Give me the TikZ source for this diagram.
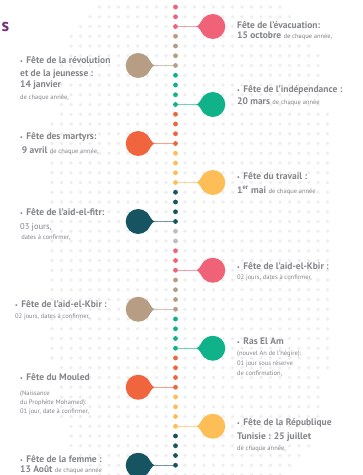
\documentclass[tikz,border=0pt]{standalone}
\usepackage{fontspec}
\setmainfont{PT Sans}
\usepackage{xcolor}
\usetikzlibrary{positioning}

\definecolor{pinkc}{RGB}{240,98,120}
\definecolor{tanc}{RGB}{182,157,131}
\definecolor{greenc}{RGB}{16,178,138}
\definecolor{orangec}{RGB}{241,101,62}
\definecolor{yellowc}{RGB}{253,190,88}
\definecolor{tealc}{RGB}{22,84,98}
\definecolor{grayc}{RGB}{190,190,190}
\definecolor{txtgray}{RGB}{130,133,138}
\definecolor{mapdot}{RGB}{238,238,238}
\definecolor{titlepurple}{RGB}{122,46,126}

\newcommand\smalltxt[1]{{\fontsize{6.5}{9}\selectfont\mdseries #1}}
\newcommand\bul{{\fontsize{6}{6}\selectfont\textbullet}\hspace{3.5pt}}

\begin{document}
\begin{tikzpicture}[x=1pt, y=-1pt,
  tldot/.style={circle, inner sep=0pt, minimum size=4.8pt},
  balloon/.style={circle, inner sep=0pt, minimum size=25pt},
  link/.style={line width=0.8pt},
  daytext/.style={align=left, inner sep=0pt, text=txtgray, font=\fontsize{9.5}{12.5}\selectfont\bfseries},
  tail/.pic={\fill (-17,0) .. controls (-13.5,0) and (-11.8,-5.8) .. (-8.8,-8.8) -- (-8.8,8.8) .. controls (-11.8,5.8) and (-13.5,0) .. (-17,0) -- cycle;}
]
\fill[white] (0,0) rectangle (363,475);
\useasboundingbox (0,0) rectangle (363,475);

% map of dots
\foreach \i in {0,...,37} {
  \foreach \j in {0,...,48} {
    \pgfmathsetmacro\mx{4.5+9.5*\i}
    \pgfmathsetmacro\my{7+9.75*\j}
    \pgfmathtruncatemacro\ok{(abs(\mx-190)/140)^4+(abs(\my-240)/250)^4<1}
    \ifnum\ok=1 \fill[mapdot] (\mx,\my) circle (1.8); \fi
  }
}

\node[text=titlepurple, font=\fontsize{18}{18}\selectfont\bfseries, anchor=west, inner sep=0pt] (title) at (1.5,27.2) {s};

% Timeline
\foreach \c/\a/\b in {pinkc/0/2, tanc/3/6, greenc/7/10, orangec/11/14, yellowc/15/18, tealc/19/22, grayc/23/24,
  pinkc/25/27, tanc/28/31, greenc/32/35, orangec/36/39, yellowc/40/43, tealc/44/47}
  \foreach \k in {\a,...,\b}
    \node[tldot, fill=\c] (d\k) at (175.5, 7+9.75*\k) {};

% Balloons
\node[balloon, fill=pinkc, right=22pt of d2] (evac) {};
\node[balloon, fill=greenc, right=22pt of d10] (indep) {};
\node[balloon, fill=yellowc, right=22pt of d18] (travail) {};
\node[balloon, fill=pinkc, right=22pt of d27] (kbirR) {};
\node[balloon, fill=greenc, right=22pt of d35] (rasam) {};
\node[balloon, fill=yellowc, right=22pt of d43] (repub) {};

\node[balloon, fill=tanc, left=22pt of d6] (revol) {};
\node[balloon, fill=orangec, left=22pt of d14] (martyrs) {};
\node[balloon, fill=tealc, left=22pt of d22] (fitr) {};
\node[balloon, fill=tanc, left=22pt of d31] (kbirL) {};
\node[balloon, fill=orangec, left=22pt of d39] (mouled) {};
\node[balloon, fill=tealc, left=22pt of d47] (femme) {};

% Links
\foreach \n/\d/\c in {evac/2/pinkc, indep/10/greenc, travail/18/yellowc, kbirR/27/pinkc, rasam/35/greenc, repub/43/yellowc} {
  \pic[\c] at (\n) {tail};
  \coordinate (\n-tip) at ([xshift=-4.5pt]\n.west);
  \draw[link, \c!60] (\n-tip) -- (d\d);
}
\foreach \n/\d/\c in {revol/6/tanc, martyrs/14/orangec, fitr/22/tealc, kbirL/31/tanc, mouled/39/orangec, femme/47/tealc} {
  \pic[\c, xscale=-1] at (\n) {tail};
  \coordinate (\n-tip) at ([xshift=4.5pt]\n.east);
  \draw[link, \c!60] (\n-tip) -- (d\d);
}

% Texts right
\node[daytext, anchor=north west] (tevac) at (237,21.5) {Fête de l’évacuation:\\[-3pt] 15 octobre \smalltxt{de chaque année,}};
\node[daytext, anchor=north west] (tindep) at (237,85.5) {\bul Fête de l’indépendance :\\[-1pt] 20 mars \smalltxt{de chaque année}};
\node[daytext, anchor=north west] (ttravail) at (237,172) {\bul Fête du travail :\\[1.5pt] 1\textsuperscript{er} mai \smalltxt{de chaque année}};
\node[daytext, anchor=north west] (tkbirR) at (237,262.7) {\bul Fête de l’aid-el-Kbir :\\[-2.5pt] \smalltxt{02 jours, dates à confirmer,}};
\node[daytext, anchor=north west] (trasam) at (237,337.7) {\bul Ras El Am\\[-1.5pt] \smalltxt{(nouvel An de l’hégire):}\\[-2.5pt]
  \smalltxt{01 jour sous réserve}\\[-3pt] \smalltxt{de confirmation,}};
\node[daytext, anchor=north west] (trepub) at (237,418.7) {\bul Fête de la République\\[1pt] Tunisie : 25 juillet\\[-1pt] \smalltxt{de chaque année,}};

% Texts left
\node[daytext, anchor=north west] (trevol) at (20,56.7) {\bul Fête de la révolution\\ et de la jeunesse :\\[-1.5pt] 14 janvier\\ \smalltxt{de chaque année,}};
\node[daytext, anchor=north west] (tmartyrs) at (20,132.7) {\bul Fête des martyrs:\\[1.5pt] \,9 avril \smalltxt{de chaque année,}};
\node[daytext, anchor=north west] (tfitr) at (20,208.7) {\bul Fête de l’aid-el-fitr:\\[1.5pt] {\fontsize{8.5}{10}\selectfont\mdseries 03 jours,}\\[-2.5pt] \smalltxt{\,dates à confirmer,}};
\node[daytext, anchor=north west] (tkbirL) at (15,300) {\bul Fête de l’aid-el-Kbir :\\[-1pt] \smalltxt{02 jours, dates à confirmer,}};
\node[daytext, anchor=north west] (tmouled) at (20,373.3) {\bul Fête du Mouled\\[2.5pt] \smalltxt{(Naissance}\\[-3pt] \smalltxt{du Prophète Mohamed):}\\[-3.5pt] \smalltxt{01 jour, date à confirmer,}};
\node[daytext, anchor=north west] (tfemme) at (20,455.3) {\bul Fête de la femme :\\[-2pt] 13 Août \smalltxt{de chaque année}};

\end{tikzpicture}
\end{document}
